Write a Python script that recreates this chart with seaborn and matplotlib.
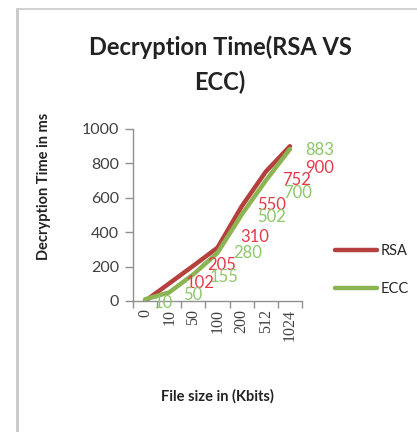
import numpy as np
import pandas as pd
import matplotlib
matplotlib.use("Agg")
import matplotlib.pyplot as plt
from matplotlib.lines import Line2D
import seaborn as sns

# File sizes (categories) and decryption times in ms
file_sizes = ["0", "10", "50", "100", "200", "512", "1024"]
rsa_times = [0, 102, 205, 310, 550, 752, 900]
ecc_times = [10, 50, 155, 280, 502, 700, 883]
y_ticks = [0, 200, 400, 600, 800, 1000]

# Pixel offsets of the data labels (dx, dy) relative to each point
rsa_offsets = [None, (31, 0), (28, 1), (37, 11), (30, 1), (31, -8), (30, -22)]
ecc_offsets = [(18, -4), (24, -3), (31, -3), (30, 0), (30, -2), (32, -12), (30, -1)]

RSA_LINE = "#B5403E"
ECC_LINE = "#8DB452"
RSA_TEXT = "#E43A48"
ECC_TEXT = "#8CC76A"

df = pd.DataFrame({
    "size": file_sizes * 2,
    "time": rsa_times + ecc_times,
    "algo": ["RSA"] * len(file_sizes) + ["ECC"] * len(file_sizes),
})

sns.set_theme(style="white")
plt.rcParams["font.family"] = ["Lato", "DejaVu Sans"]

W, H = 417, 432
fig = plt.figure(figsize=(W / 100, H / 100), dpi=100)
ax = fig.add_axes([133 / W, (H - 301) / H, 169 / W, 172 / H])

sns.lineplot(data=df, x="size", y="time", hue="algo",
             palette={"RSA": RSA_LINE, "ECC": ECC_LINE},
             linewidth=3.2, ax=ax, legend=False, sort=False)

ax.set_xlim(-0.5, len(file_sizes) - 0.5)
ax.set_ylim(0, 1000)
ax.set_yticks(y_ticks)
ax.set_yticklabels([str(t) for t in y_ticks], fontsize=11.5, color="#404040")
ax.set_xticks(range(len(file_sizes)))
ax.set_xticklabels(file_sizes, rotation=90, fontsize=11.5, color="#404040",
                   family=["Liberation Serif"])
ax.set_xticks(np.arange(-0.5, len(file_sizes), 1.0), minor=True)
ax.tick_params(axis="x", which="major", length=0, pad=6)
ax.tick_params(axis="x", which="minor", length=5, width=1, color="#909090",
               direction="out", bottom=True)
ax.tick_params(axis="y", length=6, width=1, color="#909090", direction="out",
               left=True, pad=4)
ax.set_xlabel("")
ax.set_ylabel("")
for side in ("top", "right"):
    ax.spines[side].set_visible(False)
for side in ("left", "bottom"):
    ax.spines[side].set_color("#909090")
    ax.spines[side].set_linewidth(1)

# data labels
for i, (v, off) in enumerate(zip(rsa_times, rsa_offsets)):
    if off is None:
        continue
    ax.annotate(str(v), (i, v), xytext=off, textcoords="offset pixels",
                ha="center", va="center", fontsize=12, color=RSA_TEXT)
for i, (v, off) in enumerate(zip(ecc_times, ecc_offsets)):
    ax.annotate(str(v), (i, v), xytext=off, textcoords="offset pixels",
                ha="center", va="center", fontsize=12, color=ECC_TEXT)

# titles
fig.text(220 / W, 1 - 47 / H, "Decryption Time(RSA VS", ha="center", va="center",
         fontsize=17, fontweight="bold", color="#222222")
fig.text(220 / W, 1 - 82 / H, "ECC)", ha="center", va="center",
         fontsize=17, fontweight="bold", color="#222222")
fig.text(44 / W, 1 - 186 / H, "Decryption Time in ms", rotation=90,
         ha="center", va="center", fontsize=10.5, fontweight="bold", color="#222222")
fig.text(217 / W, 1 - 396 / H, "File size in (Kbits)", ha="center", va="center",
         fontsize=10.5, fontweight="bold", color="#222222")

# legend
handles = [Line2D([], [], color=RSA_LINE, lw=3.2), Line2D([], [], color=ECC_LINE, lw=3.2)]
fig.legend(handles, ["RSA", "ECC"], loc="center left",
           bbox_to_anchor=(322 / W, 1 - 270 / H), frameon=False,
           fontsize=10.5, handlelength=2.9, handletextpad=0.25, labelspacing=1.7)

# chart frame
frame_color = "#C8C8C8"
fig.add_artist(Line2D([17 / W, 17 / W], [0, 1 - 9 / H], transform=fig.transFigure,
                      color=frame_color, lw=2))
fig.add_artist(Line2D([17 / W, 1], [1 - 9 / H, 1 - 9 / H], transform=fig.transFigure,
                      color=frame_color, lw=1.2))

fig.savefig("out.png", dpi=100, facecolor="white")
